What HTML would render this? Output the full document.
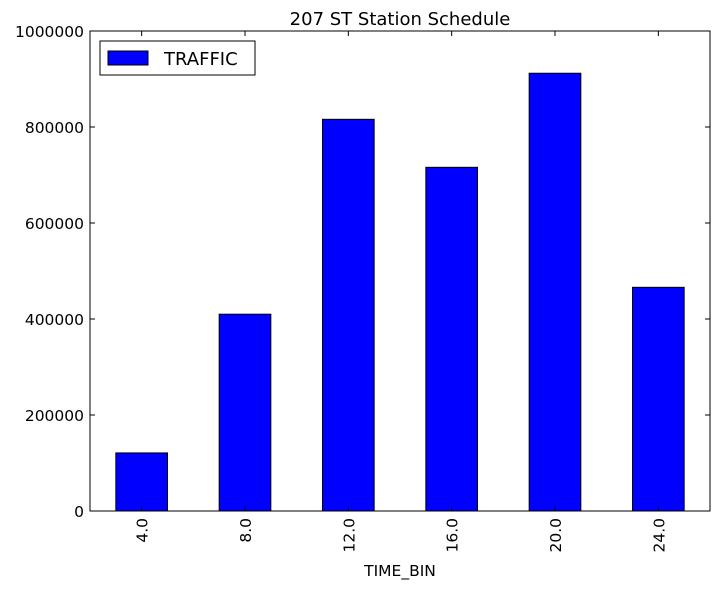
<!DOCTYPE html>
<html><head><meta charset="utf-8"><style>
body{margin:0;background:#fff;}
svg{display:block;font-family:"DejaVu Sans","Liberation Sans",sans-serif;}
</style></head><body>
<svg id="chart" width="719" height="589"></svg>
<script>
const categories = ["4.0","8.0","12.0","16.0","20.0","24.0"];
const traffic = [121000, 410000, 816000, 716000, 912000, 466000];
const yTicks = [0,200000,400000,600000,800000,1000000];
const NS="http://www.w3.org/2000/svg";
const svg=document.getElementById('chart');
const L=90,R=710,T=31,B=511,yMax=1000000;
const y=v=>B-(v/yMax)*(B-T);
const step=(R-L)/categories.length;
const x=i=>L+step*(i+0.5);
function mk(tag,attrs,parent){const e=document.createElementNS(NS,tag);for(const k in attrs)e.setAttribute(k,attrs[k]);(parent||svg).appendChild(e);return e;}
const t=mk('text',{x:400,y:25,'text-anchor':'middle','font-size':18});
t.textContent='207 ST Station Schedule';


traffic.forEach((v,i)=>{
  const r=mk('rect',{x:x(i)-step/4,y:y(v),width:step/2,height:B-y(v),fill:'#0000ff',stroke:'#000','stroke-width':1});
  
  
  mk('line',{x1:x(i),x2:x(i),y1:B,y2:B-5,stroke:'#000'});
  mk('line',{x1:x(i),x2:x(i),y1:T,y2:T+5,stroke:'#000'});
  const lb=mk('text',{x:0,y:0,'font-size':15.5,'text-anchor':'end',transform:`translate(${x(i)+6},${B+7}) rotate(-90)`});
  lb.textContent=categories[i];
  
  
});
yTicks.forEach(v=>{
  mk('line',{x1:L,x2:L+5,y1:y(v),y2:y(v),stroke:'#000'});
  mk('line',{x1:R,x2:R-5,y1:y(v),y2:y(v),stroke:'#000'});
  const lb=mk('text',{x:L-6,y:y(v)+6,'font-size':15.5,'text-anchor':'end'});
  lb.textContent=String(v);
  
  
});
const fr=mk('rect',{x:L,y:T,width:R-L,height:B-T,fill:'none',stroke:'#000','stroke-width':1});


const xt=mk('text',{x:400,y:576,'text-anchor':'middle','font-size':15.5});
xt.textContent='TIME_BIN';


const lg=mk('g',{});


mk('rect',{x:100,y:41,width:155,height:34,fill:'#fff',stroke:'#000'},lg);
mk('rect',{x:108,y:51,width:40,height:14,fill:'#0000ff',stroke:'#000'},lg);
const lt=mk('text',{x:164,y:65,'font-size':18},lg);
lt.textContent='TRAFFIC';


</script>
</body></html>
